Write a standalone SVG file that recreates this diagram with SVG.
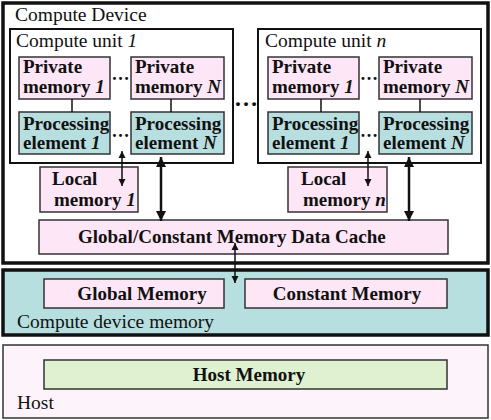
<svg xmlns="http://www.w3.org/2000/svg" width="491" height="420" viewBox="0 0 491 420">
<defs>
<style>
.t{font-family:"Liberation Serif","Times New Roman",serif;font-size:19.5px;fill:#111}
.b{font-family:"Liberation Serif","Times New Roman",serif;font-size:19px;font-weight:bold;fill:#111}
.i{font-style:italic}
.pink{fill:#fde6f6;stroke:#333;stroke-width:1.5}
.teal{fill:#b8dfe0;stroke:#333;stroke-width:1.5}
.cu{fill:#fff;stroke:#111;stroke-width:2}
.thin{stroke:#111;stroke-width:1.5;fill:none}
.thick{stroke:#111;stroke-width:2.5;fill:none}
.dots{font-family:"Liberation Serif",serif;font-size:18px;font-weight:bold;fill:#111}
</style>
<marker id="ah" viewBox="0 0 10 10" refX="10" refY="5" markerWidth="7" markerHeight="8" markerUnits="userSpaceOnUse" orient="auto-start-reverse">
<path d="M0,0 L10,5 L0,10 z" fill="#111"/>
</marker>
<marker id="ahb" viewBox="0 0 10 10" refX="10" refY="5" markerWidth="10" markerHeight="10" markerUnits="userSpaceOnUse" orient="auto-start-reverse">
<path d="M0,0 L10,5 L0,10 z" fill="#111"/>
</marker>
</defs>

<g id="host">
<rect x="3" y="345" width="485" height="73" fill="#fdf3fb" stroke="#333" stroke-width="1.5"/>
<text class="t" x="17" y="409">Host</text>
</g>
<g id="host-memory">
<rect x="44" y="360" width="403" height="29" fill="#dff1d0" stroke="#333" stroke-width="1.5"/>
<text class="b" x="249" y="381" text-anchor="middle">Host Memory</text>
</g>

<g id="compute-device-memory">
<rect x="3" y="270" width="485" height="65" fill="#b8dfe0" stroke="#111" stroke-width="3.5"/>
<text class="t" x="17" y="328">Compute device memory</text>
</g>
<g id="global-memory">
<rect x="44" y="279" width="180" height="29" class="pink"/>
<text class="b" x="142" y="300" text-anchor="middle">Global Memory</text>
</g>
<g id="constant-memory">
<rect x="245" y="279" width="202" height="29" class="pink"/>
<text class="b" x="347" y="300" text-anchor="middle">Constant Memory</text>
</g>

<g id="compute-device">
<rect x="3" y="3" width="485" height="260" fill="#fff" stroke="#111" stroke-width="3.5"/>
<text class="t" x="15" y="21">Compute Device</text>
<text class="dots" x="246" y="106" text-anchor="middle" style="font-size:24px">…</text>
</g>

<g id="compute-unit-1">
<rect x="10" y="29" width="223" height="134" class="cu"/>
<text class="t" x="16" y="47">Compute unit <tspan class="i">1</tspan></text>
</g>
<g id="private-memory-1-cu1">
<rect x="19" y="57" width="91" height="42" class="pink"/>
<text class="b" x="23" y="73">Private</text>
<text class="b" x="23" y="93">memory <tspan class="i">1</tspan></text>
</g>
<g id="private-memory-N-cu1">
<rect x="131" y="57" width="93" height="42" class="pink"/>
<text class="b" x="135" y="73">Private</text>
<text class="b" x="135" y="93">memory <tspan class="i">N</tspan></text>
</g>
<g id="pe-1-cu1">
<rect x="19" y="112" width="91" height="42" class="teal"/>
<text class="b" x="23" y="130">Processing</text>
<text class="b" x="23" y="149">element <tspan class="i">1</tspan></text>
</g>
<g id="pe-N-cu1">
<rect x="131" y="112" width="93" height="42" class="teal"/>
<text class="b" x="135" y="130">Processing</text>
<text class="b" x="135" y="149">element <tspan class="i">N</tspan></text>
</g>
<g id="dots-cu1">
<text class="dots" x="120.5" y="80" text-anchor="middle">…</text>
<text class="dots" x="120.5" y="137" text-anchor="middle">…</text>
</g>
<g id="local-memory-1">
<rect x="40" y="167" width="98" height="45" class="pink"/>
<text class="b" x="52" y="185">Local</text>
<text class="b" x="54" y="206">memory <tspan class="i">1</tspan></text>
</g>

<g id="compute-unit-n">
<rect x="258" y="29" width="223" height="134" class="cu"/>
<text class="t" x="265" y="47">Compute unit <tspan class="i">n</tspan></text>
</g>
<g id="private-memory-1-cun">
<rect x="268" y="57" width="91" height="42" class="pink"/>
<text class="b" x="272" y="73">Private</text>
<text class="b" x="272" y="93">memory <tspan class="i">1</tspan></text>
</g>
<g id="private-memory-N-cun">
<rect x="379" y="57" width="93" height="42" class="pink"/>
<text class="b" x="383" y="73">Private</text>
<text class="b" x="383" y="93">memory <tspan class="i">N</tspan></text>
</g>
<g id="pe-1-cun">
<rect x="268" y="112" width="91" height="42" class="teal"/>
<text class="b" x="272" y="130">Processing</text>
<text class="b" x="272" y="149">element <tspan class="i">1</tspan></text>
</g>
<g id="pe-N-cun">
<rect x="379" y="112" width="93" height="42" class="teal"/>
<text class="b" x="383" y="130">Processing</text>
<text class="b" x="383" y="149">element <tspan class="i">N</tspan></text>
</g>
<g id="dots-cun">
<text class="dots" x="369" y="80" text-anchor="middle">…</text>
<text class="dots" x="369" y="137" text-anchor="middle">…</text>
</g>
<g id="local-memory-n">
<rect x="288" y="167" width="99" height="45" class="pink"/>
<text class="b" x="301" y="185">Local</text>
<text class="b" x="303" y="206">memory <tspan class="i">n</tspan></text>
</g>

<g id="cache">
<rect x="39" y="220" width="409" height="34" class="pink"/>
<text class="b" x="78" y="243">Global/Constant Memory Data Cache</text>
</g>

<g id="connectors">
<line x1="72" y1="99" x2="72" y2="112" class="thin"/>
<line x1="171" y1="99" x2="171" y2="112" class="thin"/>
<line x1="321" y1="99" x2="321" y2="112" class="thin"/>
<line x1="420" y1="99" x2="420" y2="112" class="thin"/>
<line x1="122" y1="151" x2="122" y2="186" class="thin" marker-start="url(#ah)" marker-end="url(#ah)"/>
<line x1="368" y1="151" x2="368" y2="186" class="thin" marker-start="url(#ah)" marker-end="url(#ah)"/>
<line x1="161" y1="157" x2="161" y2="221" class="thick" marker-start="url(#ahb)" marker-end="url(#ahb)"/>
<line x1="409" y1="157" x2="409" y2="221" class="thick" marker-start="url(#ahb)" marker-end="url(#ahb)"/>
<line x1="235" y1="243" x2="235" y2="283" class="thin" marker-start="url(#ah)" marker-end="url(#ah)"/>
</g>
</svg>
